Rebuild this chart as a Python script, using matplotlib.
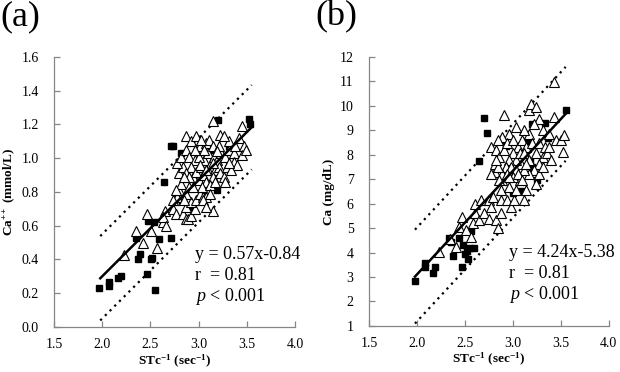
import matplotlib
matplotlib.use("Agg")
import matplotlib.pyplot as plt
import numpy as np

plt.rcParams['font.family'] = ['Liberation Serif', 'DejaVu Serif']
plt.rcParams['mathtext.fontset'] = 'custom'
plt.rcParams['mathtext.rm'] = 'Liberation Serif'
plt.rcParams['mathtext.it'] = 'Liberation Serif:italic'
plt.rcParams['mathtext.bf'] = 'Liberation Serif:bold'

# ---- panel (a): Ca++ (mmol/L) vs STc^-1 ----
a_sq_x = [1.97, 2.07, 2.07, 2.16, 2.19, 2.37, 2.39, 2.35, 2.46, 2.51, 2.52, 2.55, 2.59,
          2.71, 2.47, 2.54, 2.64, 2.71, 2.73, 2.82, 2.93, 3.05, 3.19, 3.20, 3.31, 3.52,
          3.53, 3.15]
a_sq_y = [0.233, 0.267, 0.24, 0.29, 0.30, 0.40, 0.435, 0.53, 0.316, 0.40, 0.41, 0.22, 0.52,
          0.53, 0.63, 0.62, 0.86, 1.07, 1.07, 1.03, 0.71, 0.78, 0.81, 1.225, 1.07, 1.23,
          1.20, 1.05]

a_tri_x = [2.23, 2.35, 2.42, 2.46, 2.51, 2.57, 2.63, 2.65, 2.63, 2.66, 2.73, 2.77, 2.75,
           2.78, 2.80, 2.82, 2.84, 2.87, 2.89, 2.92, 2.96, 2.87, 2.92, 2.97, 3.01, 3.04,
           3.08, 3.15, 2.87, 2.90, 2.85, 2.80, 2.84, 2.78, 2.82, 2.87, 2.92, 2.97, 3.01,
           2.87, 2.90, 2.96, 2.92, 2.87, 2.94, 3.00, 2.97, 3.02, 3.06, 3.10, 3.08, 3.11,
           3.15, 3.04, 3.10, 3.13, 3.16, 3.19, 3.17, 3.21, 3.15, 3.08, 3.03, 3.12, 3.05,
           3.17, 3.22, 3.23, 3.21, 3.22, 3.15, 3.27, 3.31, 3.29, 3.34, 3.31, 3.26, 3.27,
           3.37, 3.38, 3.42, 3.45, 3.47, 3.45, 3.49, 3.37, 3.40, 3.34, 3.00, 3.02, 3.06,
           2.96, 3.01, 2.94, 2.90, 3.08, 3.12, 2.73, 2.77, 2.85, 3.08, 3.15, 3.19, 3.26,
           3.31]
a_tri_y = [0.425, 0.57, 0.50, 0.67, 0.57, 0.47, 0.62, 0.69, 0.65, 0.60, 0.70, 0.67, 0.75,
           0.77, 0.81, 0.85, 0.67, 0.64, 0.64, 0.66, 0.70, 0.71, 0.74, 0.75, 0.79, 0.77,
           0.77, 0.69, 0.79, 0.83, 0.75, 0.91, 0.95, 0.97, 1.01, 1.13, 1.10, 1.13, 1.07,
           1.05, 1.01, 0.99, 0.95, 0.91, 0.89, 0.87, 0.92, 0.95, 0.99, 1.03, 1.09, 1.11,
           1.07, 0.90, 0.93, 0.97, 1.01, 0.99, 0.93, 0.95, 0.89, 0.86, 0.83, 0.84, 0.75,
           0.86, 0.91, 1.03, 1.07, 1.14, 1.22, 1.01, 1.05, 0.95, 0.99, 1.10, 0.89, 0.86,
           1.03, 1.07, 1.12, 1.19, 1.07, 1.02, 1.05, 0.98, 0.96, 0.93, 1.01, 1.11, 1.05,
           1.05, 0.96, 0.83, 0.89, 0.71, 0.79, 0.75, 0.81, 0.89, 0.93, 0.97, 1.04, 1.13,
           0.97]

# ---- panel (b): Ca (mg/dL) vs STc^-1 ----
b_sq_x = [1.98, 2.08, 2.08, 2.19, 2.17, 2.33, 2.38, 2.36, 2.48, 2.52, 2.55, 2.60, 2.53,
          2.47, 2.50, 2.44, 2.56, 2.70, 2.73, 2.65, 2.93, 3.00, 3.08, 3.15, 3.18, 3.20,
          3.25, 3.33, 3.37, 3.55, 3.20]
b_sq_y = [2.85, 3.58, 3.41, 3.41, 3.17, 4.60, 3.85, 4.45, 4.30, 4.05, 4.20, 4.20, 3.75,
          3.40, 3.95, 4.60, 4.90, 9.50, 8.88, 7.75, 8.35, 6.45, 6.50, 8.55, 7.75, 9.25,
          6.95, 9.30, 8.70, 9.82, 7.50]

b_tri_x = [2.23, 2.35, 2.41, 2.44, 2.47, 2.51, 2.56, 2.58, 2.61, 2.61, 2.65, 2.67, 2.70,
           2.75, 2.75, 2.77, 2.79, 2.81, 2.77, 2.81, 2.82, 2.84, 2.88, 2.88, 2.88, 2.89,
           2.91, 2.94, 2.96, 2.98, 3.01, 3.03, 3.07, 3.12, 3.14, 3.17, 3.19, 3.24, 3.27,
           3.31, 3.38, 3.45, 3.52, 3.50, 3.53, 3.43, 3.43, 3.22, 3.17, 3.12, 3.03, 2.96,
           2.89, 2.84, 2.77, 2.82, 2.86, 2.91, 2.94, 3.00, 3.05, 3.10, 3.14, 3.20, 3.27,
           3.33, 3.31, 3.36, 3.40, 3.27, 3.22, 3.27, 3.24, 3.31, 3.17, 3.12, 3.08, 3.03,
           3.00, 2.96, 2.93, 2.98, 3.03, 3.07, 3.12, 3.17, 3.14, 2.89, 2.84, 2.94, 3.00,
           3.05, 3.10, 2.96, 2.86, 3.24, 3.38, 2.82]
b_tri_y = [4.03, 4.54, 4.21, 5.05, 5.46, 4.92, 4.65, 5.19, 5.60, 6.00, 5.33, 6.14, 5.60,
           6.14, 5.39, 5.87, 6.28, 7.30, 7.23, 7.64, 5.33, 4.99, 5.60, 6.14, 6.55, 6.96,
           9.61, 6.14, 6.69, 5.87, 6.14, 6.55, 6.96, 6.14, 6.55, 9.82, 10.09, 9.95, 9.48,
           9.00, 8.86, 8.59, 8.12, 8.59, 8.80, 9.54, 10.97, 9.27, 8.86, 9.00, 9.14, 8.86,
           8.73, 8.59, 8.32, 8.18, 7.91, 8.18, 8.46, 8.59, 8.32, 8.59, 8.32, 8.46, 8.46,
           8.32, 7.91, 8.05, 7.78, 7.64, 7.37, 7.23, 6.82, 7.50, 7.23, 7.37, 7.64, 7.78,
           8.05, 7.78, 7.50, 7.50, 7.37, 8.05, 8.05, 7.78, 7.64, 7.23, 7.50, 7.23, 7.10,
           7.23, 6.96, 7.10, 6.96, 8.05, 8.32, 7.78]

panels = [
    dict(tag='(a)', sqx=a_sq_x, sqy=a_sq_y, trx=a_tri_x, try_=a_tri_y,
         slope=0.57, icpt=-0.84, band=0.25, r='0.81',
         ylim=(0.0, 1.6), yticks=np.arange(0, 1.61, 0.2), yfmt='{:.1f}',
         ylabel=r'Ca$^{\mathbf{++}}$ (mmol/L)', ty=0.43, dy=0.125,
         rect=[0.087, 0.121, 0.389, 0.726], tagx=0.0),
    dict(tag='(b)', sqx=b_sq_x, sqy=b_sq_y, trx=b_tri_x, try_=b_tri_y,
         slope=4.24, icpt=-5.38, band=1.92, r='0.81',
         ylim=(1, 12), yticks=np.arange(1, 12.1, 1), yfmt='{:.0f}',
         ylabel='Ca (mg/dL)', ty=4.02, dy=0.87,
         rect=[0.595, 0.124, 0.387, 0.723], tagx=0.508),
]

fig = plt.figure(figsize=(6.2, 3.72), dpi=100)

for p in panels:
    ax = fig.add_axes(p['rect'])
    ax.plot(p['sqx'], p['sqy'], 's', color='black', markersize=5, zorder=3)
    ax.plot(p['trx'], p['try_'], '^', markerfacecolor='white', markeredgecolor='black',
            markersize=6.8, markeredgewidth=0.8, zorder=4)

    xs = np.array([1.98, 3.55])
    fit = p['slope'] * xs + p['icpt']
    ax.plot(xs, fit, color='black', lw=1.8, zorder=5)
    ax.plot(xs, fit + p['band'], color='black', lw=1.6, ls=(0, (1, 2)), zorder=2)
    ax.plot(xs, fit - p['band'], color='black', lw=1.6, ls=(0, (1, 2)), zorder=2)

    ax.set_xlim(1.5, 4.0)
    ax.set_ylim(*p['ylim'])
    ax.set_xticks(np.arange(1.5, 4.01, 0.5))
    ax.set_xticklabels(['{:.1f}'.format(v) for v in np.arange(1.5, 4.01, 0.5)])
    ax.set_yticks(p['yticks'])
    ax.set_yticklabels([p['yfmt'].format(v) for v in p['yticks']])

    for s in ['top', 'right']:
        ax.spines[s].set_visible(False)
    for s in ['left', 'bottom']:
        ax.spines[s].set_color('#868686')
        ax.spines[s].set_linewidth(0.9)
    ax.tick_params(direction='in', colors='#868686', labelcolor='black', labelsize=10,
                   length=4, width=0.9)
    ax.tick_params(axis='y', pad=11)
    ax.tick_params(axis='x', pad=8)

    ax.set_xlabel(r'STc$^{\mathbf{-1}}$ (sec$^{\mathbf{-1}}$)', fontsize=9.5,
                  fontweight='bold', labelpad=1)
    ax.set_ylabel(p['ylabel'], fontsize=9.5, fontweight='bold', labelpad=3)

    tx = 2.96
    ax.text(tx, p['ty'], 'y = {:.2f}x{:.2f}'.format(p['slope'], p['icpt']),
            fontsize=13, va='center')
    ax.text(tx, p['ty'] - p['dy'], 'r  = ' + p['r'], fontsize=13, va='center')
    ax.text(tx, p['ty'] - 2 * p['dy'], r'$\mathit{p}$ < 0.001', fontsize=13, va='center')

    fig.text(p['tagx'], 1.0, p['tag'], fontsize=26, va='top', ha='left')

fig.savefig('out.png', dpi=100)
